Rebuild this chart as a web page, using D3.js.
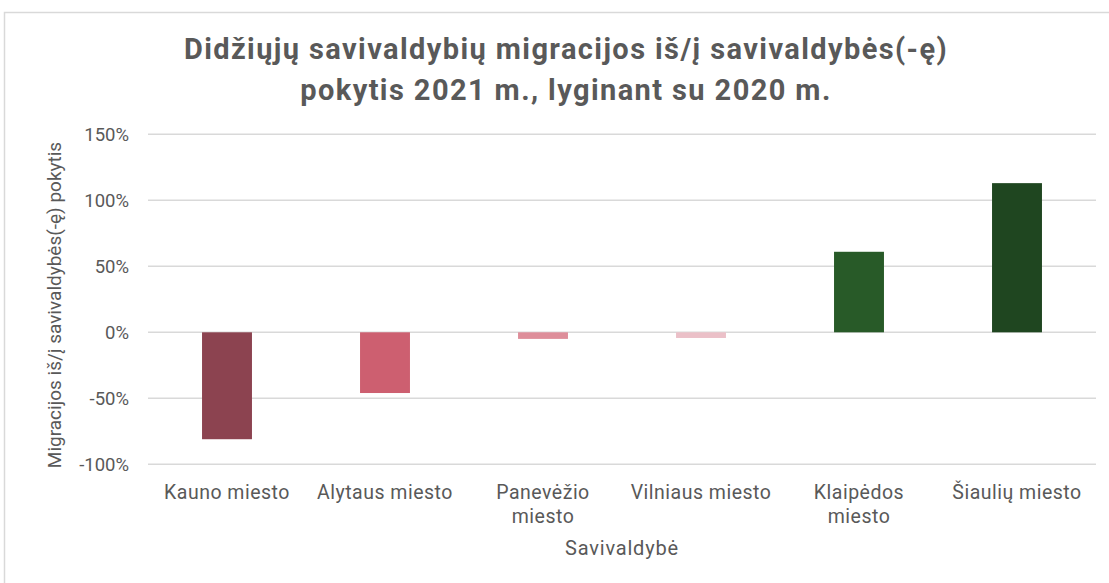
<!DOCTYPE html>
<html>
<head>
<meta charset="utf-8">
<script src="https://cdn.jsdelivr.net/npm/d3@7"></script>
<style>
  body { margin: 0; background: #fff; }
  svg { font-family: Roboto, sans-serif; }
</style>
</head>
<body>
<div id="chart"></div>
<script>
const categories = ["Kauno miesto", "Alytaus miesto", "Panevėžio miesto", "Vilniaus miesto", "Klaipėdos miesto", "Šiaulių miesto"];
const tickLabels = [["Kauno miesto"], ["Alytaus miesto"], ["Panevėžio", "miesto"], ["Vilniaus miesto"], ["Klaipėdos", "miesto"], ["Šiaulių miesto"]];
const values = [-0.81, -0.46, -0.05, -0.043, 0.61, 1.13];
const colors = ["#8c4350", "#cd5f70", "#de8e9a", "#ebc0c8", "#285a28", "#1f4620"];
const yTicks = [-1, -0.5, 0, 0.5, 1, 1.5];
const titleLines = ["Didžiųjų savivaldybių migracijos iš/į savivaldybės(-ę)", "pokytis 2021 m., lyginant su 2020 m."];

const W = 1109, H = 583;
const textColor = "#595959";
const gridColor = "#d9d9d9";

const svg = d3.select("#chart").append("svg")
    .attr("width", W)
    .attr("height", H);

// chart frame
svg.append("rect")
  .attr("x", 4.5).attr("y", 12.5)
  .attr("width", W).attr("height", H)
  .attr("fill", "#fff")
  .attr("stroke", gridColor)
  .attr("stroke-width", 1.5);

const x = d3.scaleBand().domain(categories).range([148, 1096]).paddingInner(0.684).paddingOuter(0.342);
const y = d3.scaleLinear().domain([-1, 1.5]).range([464.3, 134.3]);

// gridlines
svg.append("g")
  .selectAll("line")
  .data(yTicks)
  .join("line")
    .attr("x1", 148).attr("x2", 1096)
    .attr("y1", d => y(d)).attr("y2", d => y(d))
    .attr("stroke", gridColor)
    .attr("stroke-width", 1.5);

// y axis labels (hyphen minus like the original)
const pct = d => Math.round(d * 100) + "%";
const yAxis = d3.axisLeft(y).tickValues(yTicks).tickFormat(pct).tickSize(0).tickPadding(0);
const gy = svg.append("g").attr("transform", "translate(129,0)").call(yAxis);
gy.select(".domain").remove();
gy.selectAll("text")
  .attr("fill", textColor)
  .attr("dy", "0.35em")
  .style("font-size", "18.5px")
  .style("font-family", "Roboto, sans-serif");

// bars
svg.append("g")
  .selectAll("rect")
  .data(values)
  .join("rect")
    .attr("x", (d, i) => x(categories[i]))
    .attr("width", x.bandwidth())
    .attr("y", d => y(Math.max(0, d)))
    .attr("height", d => Math.abs(y(d) - y(0)))
    .attr("fill", (d, i) => colors[i]);

// x labels
const gx = svg.append("g");
gx.selectAll("text")
  .data(categories)
  .join("text")
    .attr("x", d => x(d) + x.bandwidth() / 2)
    .attr("y", 499)
    .attr("text-anchor", "middle")
    .attr("fill", textColor)
    .style("font-size", "19.5px")
    .style("letter-spacing", "0.5px")
    .each(function (d, i) {
      d3.select(this).selectAll("tspan")
        .data(tickLabels[i])
        .join("tspan")
          .attr("x", x(d) + x.bandwidth() / 2)
          .attr("dy", (t, j) => j === 0 ? 0 : 24)
          .text(t => t);
    });

// axis titles
svg.append("text")
  .attr("x", 622).attr("y", 555)
  .attr("text-anchor", "middle")
  .attr("fill", textColor)
  .style("font-size", "20px")
  .style("letter-spacing", "0.8px")
  .text("Savivaldybė");

svg.append("text")
  .attr("transform", "translate(61,305) rotate(-90)")
  .attr("text-anchor", "middle")
  .attr("fill", textColor)
  .style("font-size", "19px")
  .text("Migracijos iš/į savivaldybės(-ę) pokytis");

// title
svg.append("g")
  .selectAll("text")
  .data(titleLines)
  .join("text")
    .attr("x", 566)
    .attr("y", (d, i) => 59 + i * 41)
    .attr("text-anchor", "middle")
    .attr("fill", textColor)
    .style("font-size", "29px")
    .style("font-weight", "bold")
    .style("letter-spacing", "1.4px")
    .text(d => d);
</script>
</body>
</html>
